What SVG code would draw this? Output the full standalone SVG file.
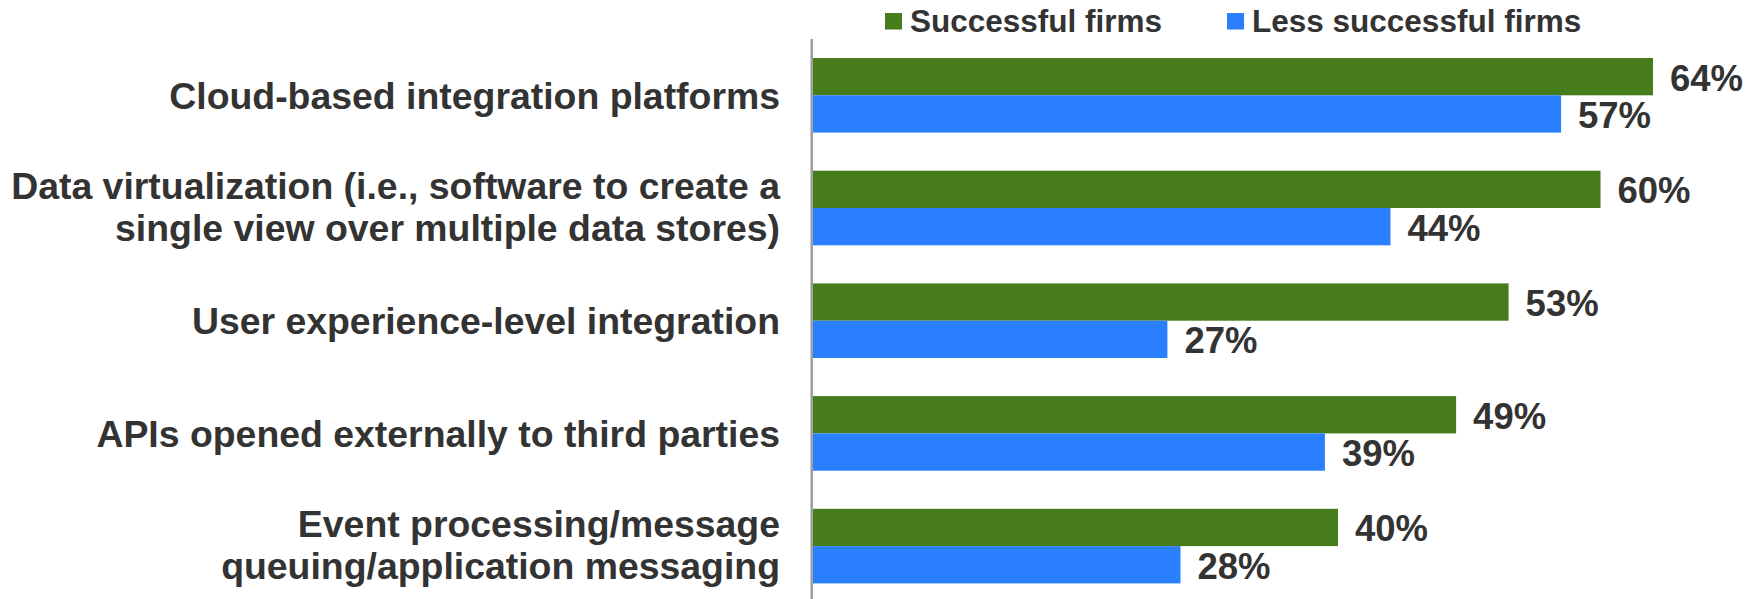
<svg xmlns="http://www.w3.org/2000/svg" width="1759" height="599" viewBox="0 0 1759 599">
<style>
.cat{font-family:"Liberation Sans",Arial,sans-serif;font-weight:bold;font-size:37.4px;fill:#333333;text-anchor:end}
.val{font-family:"Liberation Sans",Arial,sans-serif;font-weight:bold;font-size:36.5px;fill:#333333}
.leg{font-family:"Liberation Sans",Arial,sans-serif;font-weight:bold;font-size:31.5px;fill:#333333}
.g{fill:#477C1C}
.b{fill:#2A7FFF}
</style>
<rect width="1759" height="599" fill="#ffffff"/>
<g id="legend">
<rect class="g" x="885" y="13" width="17" height="16.5"/>
<text class="leg" x="910" y="32">Successful firms</text>
<rect class="b" x="1227" y="13" width="17" height="16.5"/>
<text class="leg" x="1252" y="32">Less successful firms</text>
</g>
<g id="axis">
<line x1="811.7" y1="39" x2="811.7" y2="599" stroke="#999999" stroke-width="2.4"/>
</g>
<g id="cloud">
<rect class="g" x="813" y="58" width="840" height="37.3"/>
<rect class="b" x="813" y="95.3" width="748.1" height="37.3"/>
<text class="cat" x="780" y="109">Cloud-based integration platforms</text>
<text class="val" x="1670" y="90.5">64%</text>
<text class="val" x="1578" y="127.8">57%</text>
</g>
<g id="datavirt">
<rect class="g" x="813" y="170.7" width="787.5" height="37.3"/>
<rect class="b" x="813" y="208" width="577.5" height="37.3"/>
<text class="cat" x="780" y="198.5">Data virtualization (i.e., software to create a</text>
<text class="cat" x="780" y="240.5">single view over multiple data stores)</text>
<text class="val" x="1617.5" y="203.2">60%</text>
<text class="val" x="1407.5" y="240.5">44%</text>
</g>
<g id="ux">
<rect class="g" x="813" y="283.4" width="695.6" height="37.3"/>
<rect class="b" x="813" y="320.7" width="354.4" height="37.3"/>
<text class="cat" x="780" y="334.2">User experience-level integration</text>
<text class="val" x="1525.6" y="315.9">53%</text>
<text class="val" x="1184.4" y="353.2">27%</text>
</g>
<g id="apis">
<rect class="g" x="813" y="396.1" width="643.1" height="37.3"/>
<rect class="b" x="813" y="433.4" width="511.9" height="37.3"/>
<text class="cat" x="780" y="446.9">APIs opened externally to third parties</text>
<text class="val" x="1473.1" y="428.6">49%</text>
<text class="val" x="1341.9" y="465.9">39%</text>
</g>
<g id="event">
<rect class="g" x="813" y="508.8" width="525" height="37.3"/>
<rect class="b" x="813" y="546.1" width="367.5" height="37.3"/>
<text class="cat" x="780" y="536.6">Event processing/message</text>
<text class="cat" x="780" y="578.6">queuing/application messaging</text>
<text class="val" x="1355" y="541.3">40%</text>
<text class="val" x="1197.5" y="578.6">28%</text>
</g>
</svg>
